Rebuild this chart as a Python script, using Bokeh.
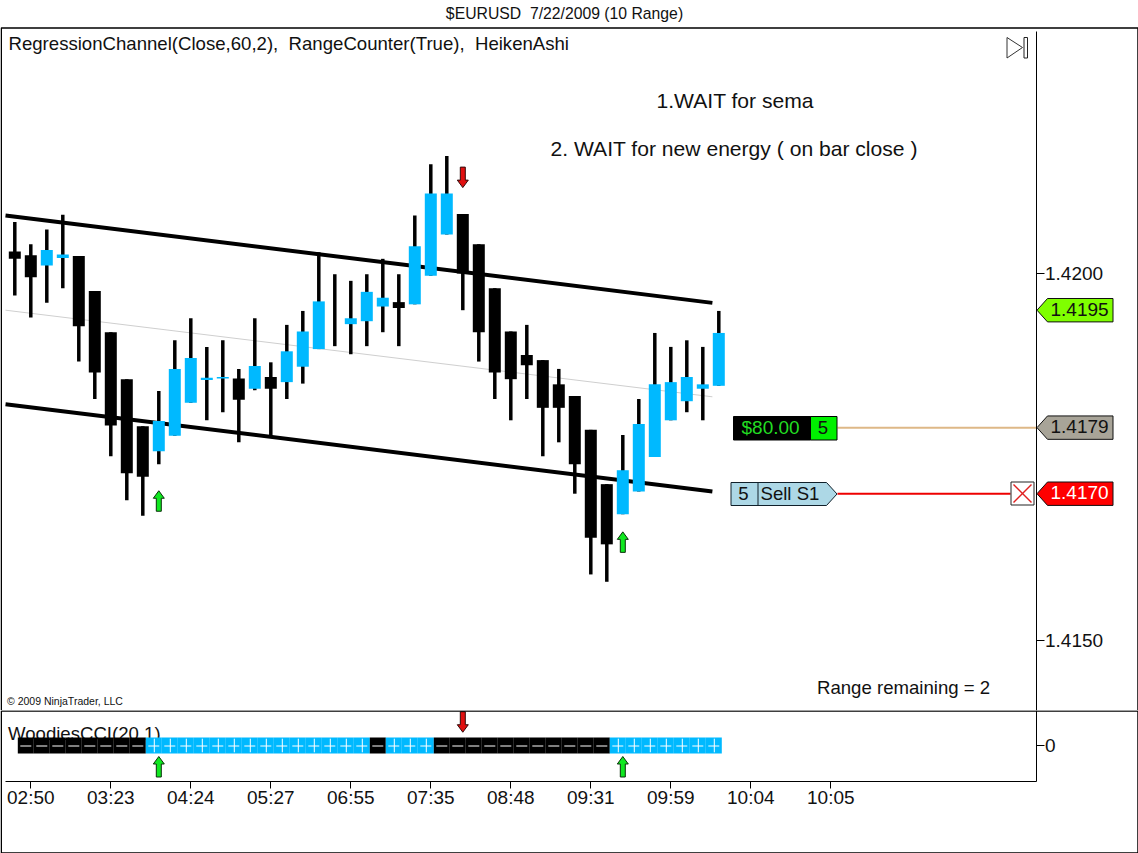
from bokeh.embed import file_html
from bokeh.resources import INLINE
from bokeh.plotting import figure
from bokeh.layouts import column
from bokeh.models import (ColumnDataSource, Range1d, FixedTicker, Label)
from bokeh.core.properties import value

# ---- price data (Heiken-Ashi range bars) ----
highs = [1.42070,1.42040,1.42060,1.42080,1.42024,1.41976,1.41920,1.41856,1.41792,1.41840,
         1.41909,1.41939,1.41900,1.41909,1.41870,1.41939,1.41879,1.41930,1.41949,1.42029,
         1.41999,1.41990,1.41999,1.42020,1.41999,1.42079,1.42149,1.42160,1.42081,1.42040,
         1.41980,1.41921,1.41930,1.41882,1.41870,1.41833,1.41787,1.41713,1.41780,1.41829,
         1.41919,1.41900,1.41909,1.41900,1.41949]
lows  = [1.41970,1.41940,1.41960,1.41980,1.41880,1.41829,1.41751,1.41691,1.41670,1.41740,
         1.41779,1.41824,1.41800,1.41811,1.41770,1.41841,1.41779,1.41829,1.41850,1.41897,
         1.41901,1.41890,1.41901,1.41920,1.41901,1.41958,1.41997,1.42053,1.41950,1.41880,
         1.41829,1.41800,1.41829,1.41751,1.41770,1.41700,1.41590,1.41580,1.41672,1.41703,
         1.41750,1.41800,1.41811,1.41800,1.41847]
opens = [1.42030,1.42025,1.42011,1.42021,1.42024,1.41976,1.41920,1.41856,1.41792,1.41758,
         1.41779,1.41824,1.41855,1.41857,1.41857,1.41843,1.41859,1.41852,1.41873,1.41897,
         1.41950,1.41931,1.41935,1.41955,1.41961,1.41958,1.41997,1.42053,1.42081,1.42040,
         1.41980,1.41921,1.41889,1.41882,1.41849,1.41833,1.41787,1.41713,1.41672,1.41703,
         1.41750,1.41800,1.41826,1.41843,1.41847]
closes= [1.42020,1.41995,1.42032,1.42026,1.41928,1.41865,1.41793,1.41728,1.41723,1.41799,
         1.41870,1.41885,1.41858,1.41859,1.41828,1.41874,1.41843,1.41894,1.41921,1.41962,
         1.41950,1.41939,1.41975,1.41967,1.41953,1.42037,1.42109,1.42109,1.42000,1.41920,
         1.41865,1.41856,1.41875,1.41817,1.41817,1.41740,1.41640,1.41631,1.41732,1.41795,
         1.41849,1.41852,1.41859,1.41849,1.41919]
bars = list(range(len(closes)))

# regression channel
channel_x = [-0.58, 43.6]
channel_upper = [1.42079, 1.41960]
channel_mid = [1.41950, 1.41832]
channel_lower = [1.41822, 1.41703]

# signals
up_bars = [9, 38]
up_prices = [1.41704, 1.41648]
down_bars = [28]
down_prices = [1.42117]

# CCI histogram direction, bar 1 .. 44
cci_bars = list(range(1, 45))
cci_dir = [-1]*8 + [1]*14 + [-1] + [1]*3 + [-1]*11 + [1]*7
cci_height = 100
cci_up_level = -137.5
cci_down_level = 166

# ticks
x_ticks = [1, 6, 11, 16, 21, 26, 31, 36, 41, 46, 51]
x_labels = ["02:50","03:23","04:24","05:27","06:55","07:35","08:48","09:31","09:59","10:04","10:05"]
price_ticks = [1.4200, 1.4150]
last_price = 1.4195
entry_price = 1.4179
stop_price = 1.4170

FONT = "Liberation Sans"
FS = "18.6px"
AXFS = "19px"
BIG = "21.1px"
BLUE = "#00B9FF"

def X(px): return (px - 14.3) / 16
def Y(py): return 1.42 + (273 - py) / 73400
def DY(px): return px / 73400
def Y2(py): return (745 - py) * 12.5

W, H1, H2 = 1138, 710, 143

p = figure(width=W, height=H1, output_backend="svg", toolbar_location=None,
           x_range=Range1d(X(0), X(W)), y_range=Range1d(Y(710), Y(0)),
           y_axis_location="right", min_border=0, tools="")
p.xaxis.visible = False
p.grid.visible = False
p.outline_line_color = None
ya = p.yaxis[0]
ya.fixed_location = X(1035.5)
ya.bounds = (Y(710), Y(31))
ya.ticker = FixedTicker(ticks=price_ticks)
ya.major_label_overrides = {t: f"{t:.4f}" for t in price_ticks}
ya.major_label_text_font = FONT
ya.major_label_text_font_size = AXFS
ya.major_label_text_color = "#111111"
ya.major_tick_out = 8
ya.major_tick_in = 0
ya.minor_tick_out = 0
ya.minor_tick_in = 0
ya.major_tick_line_color = "black"
ya.axis_line_color = "black"
ya.major_label_standoff = 1

def lab(fig, x, y, text, size=FS, color="#111111", align="left", baseline="middle"):
    fig.add_layout(Label(x=x, y=y, text=text, text_font=FONT, text_font_size=size,
                         text_color=color, text_align=align, text_baseline=baseline))

# regression channel behind the candles
p.line(channel_x, channel_mid, line_color="#CFCFCF", line_width=1)
p.line(channel_x, channel_upper, line_color="black", line_width=4)
p.line(channel_x, channel_lower, line_color="black", line_width=4)

colors = [BLUE if c > o else "black" for o, c in zip(opens, closes)]
src = ColumnDataSource(dict(x=bars, h=highs, l=lows, o=opens, c=closes, col=colors))
p.segment("x", "h", "x", "l", source=src, line_color="black", line_width=3.5)
p.vbar("x", width=0.75, top="o", bottom="c", source=src, fill_color="col", line_color=None)

# arrows
def arrow(xi, tip, up, dy):
    hw, sw, hh, L = 5.5 / 16, 2.5 / 16, dy(7.5), dy(20.5)
    if up:
        ys = [tip, tip - hh, tip - hh, tip - L, tip - L, tip - hh, tip - hh]
    else:
        ys = [tip, tip + hh, tip + hh, tip + L, tip + L, tip + hh, tip + hh]
    xs = [xi, xi - hw, xi - sw, xi - sw, xi + sw, xi + sw, xi + hw]
    return xs, ys

def draw_arrows(fig, xs, ys, up, dy):
    shapes = [arrow(a, b, up, dy) for a, b in zip(xs, ys)]
    fig.patches([s[0] for s in shapes], [s[1] for s in shapes],
                fill_color="#10E820" if up else "#E01010", line_color="#0A300A" if up else "#300A0A", line_width=1)

draw_arrows(p, up_bars, up_prices, True, DY)
draw_arrows(p, down_bars, down_prices, False, DY)

# position line and chart-trader tags
p.segment([X(837)], [entry_price], [X(1036)], [entry_price], line_color="#DEB887", line_width=2)
p.segment([X(837)], [stop_price], [X(1010)], [stop_price], line_color="#EE0000", line_width=2)

p.quad(left=[X(733)], right=[X(810)], top=[Y(416)], bottom=[Y(439.5)], fill_color="black", line_color="black")
p.quad(left=[X(810)], right=[X(836.5)], top=[Y(416)], bottom=[Y(439.5)], fill_color="#00F000", line_color="black", line_width=1)
lab(p, X(741), Y(427), "$80.00", size=AXFS, color="#22DD22")
lab(p, X(822.5), Y(427), "5", align="center")

p.patch([X(730.5), X(826), X(836.5), X(826), X(730.5)],
        [Y(482), Y(482), Y(493.5), Y(505), Y(505)],
        fill_color="#ADD8E6", line_color="#10202A", line_width=1)
p.segment([X(757.5)], [Y(482)], [X(757.5)], [Y(505)], line_color="#10202A", line_width=1)
lab(p, X(743), Y(492.5), "5", align="center")
lab(p, X(760), Y(492.5), "Sell S1")

p.quad(left=[X(1010.5)], right=[X(1033.5)], top=[Y(481.5)], bottom=[Y(504.5)], fill_color="white", line_color="#222222", line_width=1)
p.segment([X(1013), X(1013)], [Y(484), Y(502)], [X(1031), X(1031)], [Y(502), Y(484)], line_color="#E02020", line_width=1.5)

# right-hand price tags
def tag(price, fill, txt, txt_color):
    c = price
    xs = [X(1036.5), X(1047), X(1112.5), X(1112.5), X(1047)]
    ys = [c, c + DY(11.7), c + DY(11.7), c - DY(11.7), c - DY(11.7)]
    p.patch(xs, ys, fill_color=fill, line_color="#101010", line_width=1)
    lab(p, X(1050), c + DY(1.2), txt, size=AXFS, color=txt_color)

tag(last_price, "#7FFF00", f"{last_price:.4f}", "#111111")
tag(entry_price, "#A8A498", f"{entry_price:.4f}", "#111111")
tag(stop_price, "#FF0000", f"{stop_price:.4f}", "white")

# texts
lab(p, X(564), Y(13), "$EURUSD\u00a0\u00a07/22/2009 (10 Range)", size="15.75px", align="center")
lab(p, X(8), Y(42.5), "RegressionChannel(Close,60,2),\u00a0\u00a0RangeCounter(True),\u00a0\u00a0HeikenAshi")
lab(p, X(656), Y(100), "1.WAIT for sema", size=BIG)
lab(p, X(550), Y(147.5), "2. WAIT for new energy ( on bar close )", size=BIG)
lab(p, X(816.5), Y(687), "Range remaining = 2")
lab(p, X(6.5), Y(700.5), "\u00a9 2009 NinjaTrader, LLC", size="10.5px")

# play icon
p.patch([X(1006.5), X(1006.5), X(1022)], [Y(37), Y(57.5), Y(47)], fill_color="white", line_color="#333333", line_width=1)
p.quad(left=[X(1023.5)], right=[X(1027)], top=[Y(37)], bottom=[Y(57.5)], fill_color="white", line_color="#222222", line_width=1)

# outer frame
p.line([X(0.75), X(0.75), X(1137.5), X(1137.5)], [Y(710), Y(27.5), Y(27.5), Y(710)], line_color="black", line_width=1.5)

# ---- lower panel ----
q = figure(width=W, height=H2, output_backend="svg", toolbar_location=None,
           x_range=p.x_range, y_range=Range1d(Y2(853), Y2(710)),
           y_axis_location="right", min_border=0, tools="")
q.grid.visible = False
q.outline_line_color = None
qy = q.yaxis[0]
qy.fixed_location = X(1035.5)
qy.bounds = (Y2(781), Y2(710))
qy.ticker = FixedTicker(ticks=[0])
qy.major_label_text_font = FONT
qy.major_label_text_font_size = AXFS
qy.major_label_text_color = "#111111"
qy.major_tick_out = 8
qy.major_tick_in = 0
qy.minor_tick_out = 0
qy.minor_tick_in = 0
qy.major_label_standoff = 1
qx = q.xaxis[0]
qx.fixed_location = Y2(781)
qx.bounds = (X(5), X(1035.5))
qx.ticker = FixedTicker(ticks=x_ticks)
qx.major_label_overrides = dict(zip(x_ticks, x_labels))
qx.major_label_text_font = FONT
qx.major_label_text_font_size = AXFS
qx.major_label_text_color = "#111111"
qx.major_tick_out = 7
qx.major_tick_in = 0
qx.minor_tick_out = 0
qx.minor_tick_in = 0
qx.major_label_standoff = -2

q.text(x=[X(7.5)], y=[Y2(732.5)], text=["WoodiesCCI(20,1)"], text_font=value(FONT), text_font_size=value(FS),
       text_color="#111111", text_baseline="middle", text_align="left")

cell_offset = -0.3125
cx = [b + cell_offset for b in cci_bars]
tops = [cci_height for _ in cci_bars]
bots = [-cci_height for _ in cci_bars]
ccol = [BLUE if d > 0 else "black" for d in cci_dir]
q.vbar(cx, width=1, top=tops, bottom=bots, fill_color=ccol, line_color=None)
half = 5.5 / 16
zero_mark = Y2(745.5)
q.segment([a - half for a in cx], [zero_mark] * len(cx), [a + half for a in cx], [zero_mark] * len(cx), line_color="white", line_width=1)
vx = [a + 0.5 / 16 for a, d in zip(cx, cci_dir) if d > 0]
q.segment(vx, [cci_height * 0.85] * len(vx), vx, [-cci_height * 0.85] * len(vx), line_color="white", line_width=1)

draw_arrows(q, up_bars, [cci_up_level] * len(up_bars), True, lambda v: v * 12.5)
draw_arrows(q, down_bars, [cci_down_level] * len(down_bars), False, lambda v: v * 12.5)

# outer frame
q.line([X(0.75), X(0.75), X(1137.5), X(1137.5), X(0.75)], [Y2(852.5), Y2(710.5), Y2(710.5), Y2(852.5), Y2(852.5)],
       line_color="black", line_width=1.5)

page = column(p, q, spacing=0)
open("out.html", "w").write(file_html(page, INLINE))
